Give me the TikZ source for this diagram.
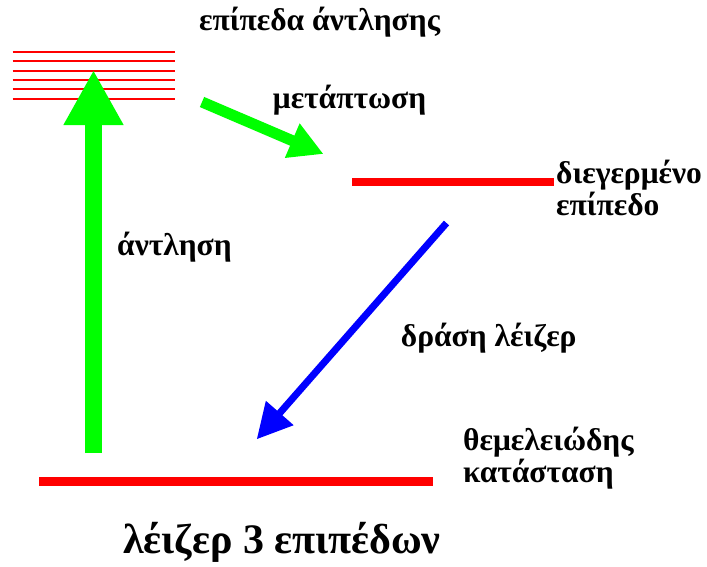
\documentclass[tikz,border=0pt]{standalone}
\usepackage{fontspec}
\setmainfont{Liberation Serif}
\usetikzlibrary{arrows.meta}
\definecolor{lgreen}{RGB}{0,255,0}
\definecolor{lred}{RGB}{255,0,0}
\definecolor{lblue}{RGB}{0,0,255}
\tikzset{
  lbl/.style={anchor=base west, inner sep=0pt, font=\bfseries\fontsize{31.5}{32}\selectfont, align=left},
  ttl/.style={anchor=base west, inner sep=0pt, font=\bfseries\fontsize{42}{48}\selectfont},
  level/.style={draw=lred, line width=#1},
  pumpsub/.style={draw=lred, line width=2pt},
}
\begin{document}
\begin{tikzpicture}[x=1pt,y=-1pt]
\useasboundingbox (0,0) rectangle (707,566);
% pump levels
\foreach \yy in {51.7,61,70.7,80,89.3,99} {
  \draw[pumpsub] (12.5,\yy) -- (175,\yy);
}
% coordinates
\coordinate (exL) at (352,182);
\coordinate (exR) at (554,182);
\coordinate (grL) at (39,481.3);
\coordinate (grR) at (433,481.3);
\coordinate (pumpS) at (93.5,453);
\coordinate (pumpE) at (93.5,70);
\coordinate (decS) at (202,102);
\coordinate (decE) at (323.5,154);
\coordinate (lasS) at (446.5,223);
\coordinate (lasE) at (256.7,439.3);
% levels
\draw[level=7.7pt] (exL) -- (exR);
\draw[level=8.7pt] (grL) -- (grR);
% arrows
\draw[draw=lgreen, line width=17pt, -{Triangle[length=55pt,width=56pt,fill=lgreen]}] (pumpS) -- (pumpE);
\draw[draw=lgreen, line width=11pt, -{Triangle[length=34pt,width=35pt,fill=lgreen]}] (decS) -- (decE);
\draw[draw=lblue, line width=7pt, -{Triangle[length=35pt,width=35pt,fill=lblue]}] (lasS) -- (lasE);
% labels
\node[lbl] (tpump) at (199,30) {επίπεδα άντλησης};
\node[lbl] (tdec) at (272.7,108.3) {μετάπτωση};
\node[lbl] (tex1) at (556,183) {διεγερμένο};
\node[lbl] (tex2) at (556,215) {επίπεδο};
\node[lbl] (tpumping) at (117,255) {άντληση};
\node[lbl] (tlas) at (400.7,346.7) {δράση λέιζερ};
\node[lbl] (tgr1) at (463,450) {θεμελειώδης};
\node[lbl] (tgr2) at (463,482) {κατάσταση};
\node[ttl] (title) at (123,553) {λέιζερ 3 επιπέδων};
\end{tikzpicture}
\end{document}
